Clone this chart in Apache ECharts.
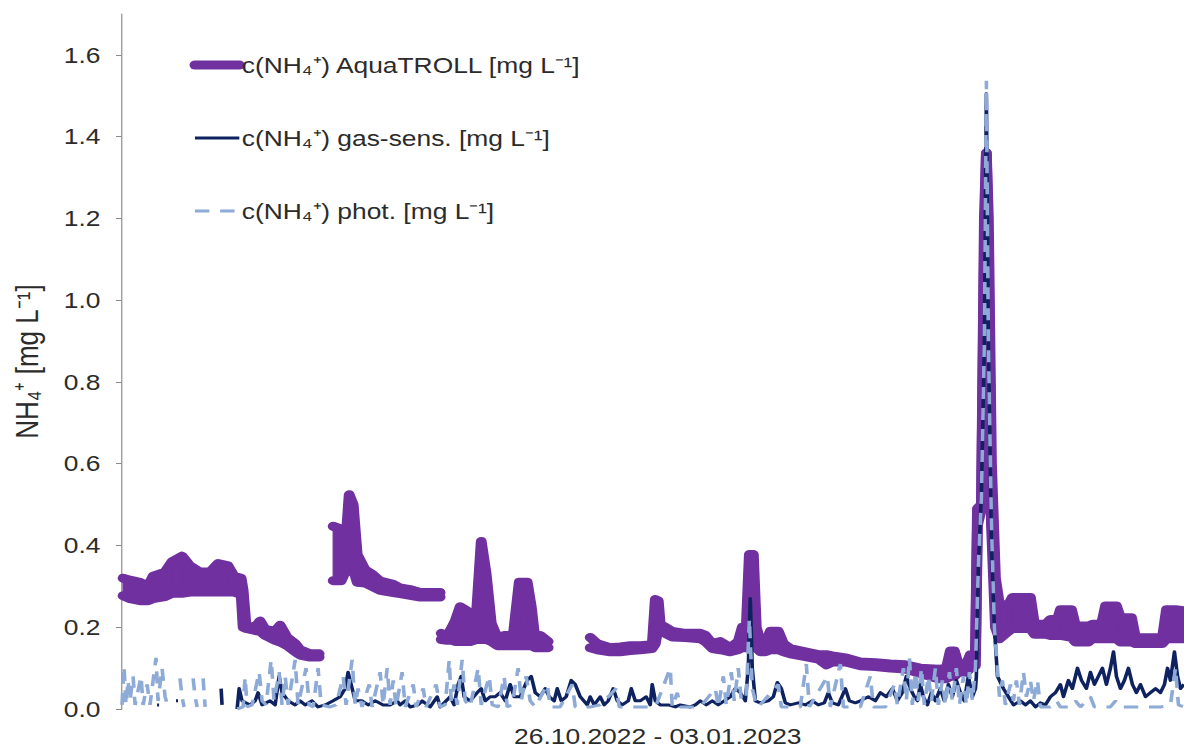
<!DOCTYPE html>
<html>
<head>
<meta charset="utf-8">
<title>NH4+ monitoring 26.10.2022 - 03.01.2023</title>
<script src="https://cdn.jsdelivr.net/npm/echarts@6/dist/echarts.min.js"></script>
<style>
  html, body { margin: 0; padding: 0; background: #ffffff; overflow: hidden; }
  /* the figure is laid out on a 987 px wide stage and widened to the full 1184 px */
  #chart { width: 987px; height: 752px; transform: scaleX(1.19959); transform-origin: 0 0; }
</style>
</head>
<body>
<div id="chart"></div>
<script>
// ---- measurement period (time axis in days after 26.10.2022 00:00) ----
const periodLabel = '26.10.2022 - 03.01.2023';
const periodDays = 69;
const yTicks = [0, 0.2, 0.4, 0.6, 0.8, 1.0, 1.2, 1.4, 1.6];

const AQUA = 'c(NH₄⁺) AquaTROLL [mg L⁻¹]';
const GAS = 'c(NH₄⁺) gas-sens. [mg L⁻¹]';
const PHOT = 'c(NH₄⁺) phot. [mg L⁻¹]';

// AquaTROLL probe: envelope (min / max) of the high-rate signal, null = no data
const aquaDay = [
  0.07, 0.52, 1.17, 1.69, 2.02, 2.8, 3.25, 3.9, 4.42, 5.07, 5.72, 6.24, 6.89, 7.28,
  7.74, 7.87, 8.06, 8.65, 8.97, 9.3, 9.95, 10.27, 10.73, 11.25, 11.57, 12.22, 12.81, 13.2,
  13.72, 14.24, 14.43, 14.76, 15.02, 15.28, 15.8, 16.25, 16.77, 17.62, 18.07, 18.72, 19.37, 20.67, 20.7,
  20.74, 21.13, 21.45, 21.65, 21.97, 22.43, 22.62, 23.01, 23.34, 23.66,
  23.99, 24.38, 24.9, 25.42, 25.81, 26.33, 26.59, 26.85, 27.17, 27.69, 28.5,
  30.42, 30.88, 31.72, 32.37, 33.02, 33.67, 34.45,
  34.65, 34.84, 34.97, 35.3, 35.75, 36.6, 37.57, 37.9, 38.35, 38.87, 39.52, 40.04, 40.3, 40.56, 40.76, 41.02,
  41.21, 41.47, 41.8, 42.12, 42.64, 42.97, 43.42, 44.4, 45.24, 45.76, 46.15, 47.0, 47.97, 48.95, 49.92, 50.9,
  51.87, 53.04, 53.56, 53.82, 54.08, 54.34, 54.86, 55.12, 55.45,
  55.58, 55.84, 56.03, 56.16, 56.29, 56.49, 56.75, 57.01,
  57.59, 57.85, 59.02, 59.28, 60.0, 60.32, 60.78, 60.97, 61.69, 61.95, 62.79,
  63.05, 63.64, 63.9, 64.61, 64.87, 65.59, 65.85, 67.6, 67.86, 68.45, 69.0
];
const aquaMin = [
  0.277, 0.27, 0.265, 0.265, 0.27, 0.275, 0.283, 0.283, 0.286, 0.286, 0.286, 0.286, 0.286, 0.286,
  0.28, 0.2, 0.197, 0.192, 0.19, 0.18, 0.168, 0.164, 0.155, 0.14, 0.132, 0.127, 0.127, null,
  0.314, 0.314, 0.33, 0.343, 0.343, 0.31, 0.308, 0.30, 0.29, 0.285, 0.282, 0.278, 0.274, 0.274, null,
  0.17, 0.168, 0.168, 0.165, 0.165, 0.165, 0.165, 0.17, 0.17, 0.17,
  0.165, 0.155, 0.155, 0.155, 0.155, 0.155, 0.155, 0.15, 0.15, 0.15, null,
  0.15, 0.145, 0.14, 0.14, 0.143, 0.145, 0.148,
  0.16, 0.2, 0.192, 0.185, 0.176, 0.175, 0.172, 0.165, 0.148, 0.145, 0.14, 0.145, 0.15, 0.15, 0.16, 0.16,
  0.15, 0.14, 0.14, 0.145, 0.145, 0.14, 0.135, 0.128, 0.122, 0.108, 0.115, 0.115, 0.106, 0.104, 0.1, 0.098,
  0.087, 0.074, 0.074, 0.08, 0.08, 0.09, 0.09, 0.1, 0.106,
  0.45, 0.49, 1.1, 1.36, 1.1, 0.45, 0.2, 0.172,
  0.19, 0.197, 0.197, 0.183, 0.183, 0.18, 0.18, 0.18, 0.175, 0.164, 0.164,
  0.172, 0.172, 0.172, 0.172, 0.164, 0.164, 0.16, 0.16, 0.172, 0.172, 0.172
];
const aquaMax = [
  0.32, 0.315, 0.31, 0.30, 0.325, 0.335, 0.36, 0.374, 0.35, 0.335, 0.335, 0.356, 0.35, 0.325,
  0.32, 0.29, 0.203, 0.2, 0.215, 0.195, 0.19, 0.205, 0.175, 0.16, 0.145, 0.135, 0.135, null,
  0.447, 0.44, 0.35, 0.524, 0.5, 0.378, 0.34, 0.33, 0.313, 0.305, 0.296, 0.292, 0.285, 0.285, null,
  0.185, 0.178, 0.2, 0.215, 0.25, 0.24, 0.18, 0.22, 0.41, 0.33,
  0.21, 0.175, 0.18, 0.18, 0.31, 0.31, 0.25, 0.165, 0.18, 0.165, null,
  0.175, 0.16, 0.15, 0.152, 0.155, 0.155, 0.157,
  0.268, 0.265, 0.207, 0.2, 0.19, 0.185, 0.185, 0.18, 0.16, 0.165, 0.15, 0.165, 0.2, 0.2, 0.378, 0.378,
  0.2, 0.165, 0.16, 0.19, 0.19, 0.16, 0.148, 0.14, 0.133, 0.133, 0.13, 0.125, 0.115, 0.113, 0.11, 0.108,
  0.1, 0.097, 0.1, 0.142, 0.142, 0.109, 0.11, 0.133, 0.133,
  0.49, 0.5, 1.2, 1.36, 1.2, 0.6, 0.32, 0.255,
  0.255, 0.273, 0.273, 0.207, 0.207, 0.219, 0.219, 0.243, 0.243, 0.203, 0.203,
  0.207, 0.207, 0.252, 0.252, 0.223, 0.223, 0.174, 0.174, 0.243, 0.243, 0.24
];

// gas-sensitive electrode
const gasDay = [
  2.28, 2.41, 3.0, 3.51, 3.64, 4.0, 6.44, 6.5, 7.0,
  7.48, 7.61, 7.8, 8.32, 8.65, 8.84, 9.1, 9.62, 9.95, 10.21, 10.4, 10.79, 11.25, 11.57, 11.9, 12.35, 12.74,
  13.2, 13.72, 14.17, 14.5, 14.69, 14.89, 15.15, 15.6, 15.99, 16.45, 16.97, 17.42, 17.88, 18.07, 18.4, 18.72,
  19.24, 19.5, 20.02, 20.48, 20.67, 21.32, 21.58, 21.84, 22.04, 22.23, 22.62, 23.08, 23.34, 23.6, 23.92,
  24.25, 24.57, 24.9, 25.22, 25.48, 25.87, 26.33, 26.59, 26.85, 27.17, 27.5, 27.76, 28.08, 28.28, 28.54,
  28.86, 29.19, 29.45, 29.77, 30.23, 30.42, 30.68, 31.07, 31.33, 31.59, 31.92, 32.18, 32.5, 32.89, 33.09,
  33.35, 33.67, 34.06, 34.32, 34.45, 34.65, 34.97, 35.49, 35.95, 36.27, 36.92, 37.25, 37.57, 37.96, 38.35,
  38.74, 39.13, 39.52, 39.85, 40.17, 40.5, 40.69, 40.82, 40.95, 41.15, 41.47, 41.99, 42.32, 42.58, 42.84,
  43.1, 43.42, 43.94, 44.4, 44.85, 45.24, 45.63, 45.89, 46.15, 46.54, 47.0, 47.26, 47.65, 47.97, 48.49,
  48.95, 49.27, 49.66, 50.05, 50.38, 50.7, 50.96, 51.22, 51.48, 51.68, 51.87, 52.07, 52.33, 52.59, 52.85,
  53.17, 53.43, 53.69, 53.95, 54.21, 54.47, 54.73, 54.99, 55.25, 55.45, 55.51, 55.64, 55.84, 56.03, 56.16,
  56.29, 56.49, 56.68, 56.88, 57.27, 57.59, 57.92, 58.37, 58.7, 59.02, 59.35, 59.67, 60.0, 60.32, 60.65,
  60.97, 61.17, 61.49, 61.75, 62.08, 62.34, 62.66, 62.92, 63.18, 63.44, 63.7, 63.96, 64.22, 64.42, 64.61,
  64.87, 65.13, 65.39, 65.65, 65.91, 66.17, 66.5, 66.82, 67.15, 67.47, 67.73, 67.93, 68.12, 68.38, 68.58,
  68.77, 69.0
];
const gasVal = [
  0.01, 0.01, null, 0.02, 0.02, null, 0.05, 0.01, null,
  0.0, 0.05, 0.02, 0.01, 0.02, 0.04, 0.01, 0.02, 0.01, 0.08, 0.04, 0.02, 0.01, 0.02, 0.01, 0.02, 0.005,
  0.01, 0.02, 0.03, 0.05, 0.09, 0.06, 0.02, 0.02, 0.01, 0.02, 0.01, 0.01, 0.02, 0.01, 0.02, 0.005,
  0.01, 0.02, 0.005, 0.03, 0.005, 0.03, 0.01, 0.06, 0.08, 0.03, 0.02, 0.04, 0.05, 0.02, 0.03,
  0.03, 0.04, 0.02, 0.06, 0.03, 0.03, 0.07, 0.08, 0.04, 0.03, 0.05, 0.03, 0.02, 0.05, 0.02,
  0.03, 0.07, 0.06, 0.03, 0.01, 0.03, 0.01, 0.03, 0.01, 0.02, 0.05, 0.02, 0.01, 0.02, 0.05,
  0.02, 0.02, 0.03, 0.01, 0.06, 0.02, 0.01, 0.01, 0.005, 0.01, 0.005, 0.01, 0.02, 0.01, 0.02,
  0.01, 0.02, 0.03, 0.05, 0.04, 0.02, 0.1, 0.27, 0.1, 0.02, 0.015, 0.02, 0.03, 0.065, 0.05,
  0.015, 0.01, 0.015, 0.01, 0.02, 0.01, 0.015, 0.04, 0.015, 0.01, 0.05, 0.02, 0.015, 0.02, 0.03,
  0.02, 0.04, 0.03, 0.05, 0.02, 0.04, 0.08, 0.05, 0.03, 0.02, 0.06, 0.03, 0.01, 0.04, 0.02,
  0.05, 0.02, 0.06, 0.03, 0.07, 0.04, 0.02, 0.08, 0.03, 0.05, 0.08, 0.35, 0.53, 0.9, 1.505,
  0.9, 0.4, 0.2, 0.08, 0.05, 0.03, 0.01, 0.02, 0.01, 0.02, 0.005, 0.015, 0.01, 0.03, 0.04,
  0.06, 0.03, 0.07, 0.05, 0.1, 0.07, 0.05, 0.09, 0.06, 0.08, 0.1, 0.06, 0.1, 0.14, 0.08,
  0.05, 0.07, 0.1, 0.06, 0.04, 0.06, 0.03, 0.04, 0.05, 0.04, 0.06, 0.1, 0.07, 0.14, 0.08,
  0.05, 0.06
];

// photometric reference analyser
const photDay = [
  0, 0.13, 0.26, 0.39, 0.52, 0.72, 0.85, 1.24, 1.37, 1.63, 1.82, 2.21, 2.34, 2.6, 2.8, 2.99, 3.25, 3.5,
  3.77, 3.9, 4.03, 4.3, 4.62, 4.75, 4.88, 5.1, 5.27, 5.4, 6.0,
  7.48, 7.87, 8.0, 8.13, 8.45, 8.91, 9.1, 9.36, 9.69, 9.88, 10.21, 10.4, 10.6, 10.79, 11.25, 11.44, 11.96,
  12.16, 12.42, 12.74, 12.94, 13.52, 13.91, 14.37, 14.56, 14.95, 15.15, 15.34, 15.6, 16.06, 16.25, 16.77,
  16.97, 17.23, 17.42, 17.62, 17.81, 18.2, 18.4, 18.92, 19.11, 19.57, 19.76, 20.41, 20.67, 21.0, 21.26,
  21.39, 21.58, 21.78, 22.1, 22.3, 22.62, 23.14, 23.34, 23.86, 24.05, 24.44, 24.83, 25.03, 25.35, 25.74,
  25.94, 26.26, 26.52, 26.85, 27.63, 27.82, 28.47, 29.25, 29.45, 30.42, 31.07, 32.11, 32.31, 33.67, 34.45,
  34.71, 35.62, 35.75, 36.08, 36.27, 37.57, 38.55, 38.74, 39.07, 39.26, 39.59, 39.78, 40.04, 40.24, 40.56,
  40.76, 40.95, 41.15, 41.34, 42.64, 42.84, 44.07, 44.46, 44.66, 45.83, 46.02, 46.67, 46.87, 47.97, 48.62,
  48.82, 49.6, 50.18, 50.38, 50.77, 50.96, 51.16, 51.35, 51.55, 51.74, 51.94, 52.13, 52.39, 52.59, 52.85,
  53.04, 53.3, 53.5, 53.76, 53.95, 54.21, 54.41, 54.67, 54.86, 55.06, 55.25, 55.45, 55.64, 55.84, 56.03,
  56.16, 56.29, 56.49, 56.68, 56.88, 57.01, 57.2, 57.4, 57.72, 57.92, 58.11, 58.31, 58.57, 58.76, 59.02,
  59.22, 59.48, 59.67, 60.32, 60.71, 60.97, 61.62, 61.95, 62.27, 62.92, 63.18, 64.22, 64.55, 64.87, 66.17,
  67.47, 68.12, 68.45, 68.64, 69.0
];
const photVal = [
  0.01, 0.105, 0.01, 0.07, 0.02, 0.08, 0.01, 0.08, 0.01, 0.06, 0.01, 0.125, 0.02, 0.1, 0.03, 0.005, 0.005, null,
  0.075, 0.03, 0.005, null, 0.075, 0.03, 0.005, null, 0.075, 0.005, null,
  0.0, 0.005, 0.078, 0.005, 0.01, 0.09, 0.02, 0.01, 0.12, 0.02, 0.09, 0.01, 0.08, 0.01, 0.12, 0.01, 0.1,
  0.01, 0.005, 0.1, 0.01, 0.005, 0.01, 0.08, 0.01, 0.12, 0.01, 0.05, 0.005, 0.06, 0.005, 0.09,
  0.01, 0.1, 0.01, 0.07, 0.005, 0.09, 0.005, 0.06, 0.005, 0.05, 0.005, 0.06, 0.005, 0.01, 0.12,
  0.02, 0.06, 0.01, 0.12, 0.02, 0.005, 0.1, 0.01, 0.08, 0.01, 0.005, 0.08, 0.005, 0.01, 0.1,
  0.02, 0.08, 0.02, 0.005, 0.06, 0.005, 0.005, 0.06, 0.005, 0.005, 0.01, 0.05, 0.005, 0.005, 0.005,
  0.01, 0.1, 0.005, 0.04, 0.005, 0.005, 0.05, 0.005, 0.08, 0.01, 0.09, 0.02, 0.1, 0.02, 0.03,
  0.22, 0.05, 0.02, 0.005, 0.06, 0.005, 0.005, 0.11, 0.005, 0.08, 0.005, 0.11, 0.005, 0.005, 0.08,
  0.005, 0.005, 0.06, 0.01, 0.1, 0.02, 0.125, 0.01, 0.09, 0.02, 0.1, 0.01, 0.08, 0.02, 0.1,
  0.01, 0.07, 0.01, 0.09, 0.02, 0.1, 0.01, 0.08, 0.01, 0.09, 0.02, 0.1, 0.35, 0.52, 0.9,
  1.537, 0.9, 0.45, 0.2, 0.1, 0.03, 0.07, 0.01, 0.06, 0.02, 0.07, 0.01, 0.09, 0.03, 0.07,
  0.02, 0.07, 0.005, 0.005, 0.02, 0.005, 0.005, 0.02, 0.005, 0.03, 0.005, 0.005, 0.02, 0.005, 0.005,
  0.005, 0.01, 0.1, 0.01, 0.005
];

// ---- series data built from the arrays above ----
const pair = (days, vals) => days.map((d, i) => [d, vals[i]]);
const aquaEnvelope = aquaDay.map((d, i) => [d, aquaMin[i], aquaMax[i]]);

const FONT = '"Liberation Sans", Arial, Helvetica, sans-serif';
const TEXT = '#2b2b2b';
const AXIS = '#8c8c8c';
const PURPLE = '#7030a0';
const NAVY = '#0f2260';
const LIGHT = '#8eaad6';

const aquaLine = { color: PURPLE, width: 9, cap: 'round', join: 'round' };

// fills the band between the min and max envelope of the probe signal
function renderAquaBand(params, api) {
  const i = params.dataIndex;
  if (i >= aquaDay.length - 1) return null;
  if (aquaMin[i] == null || aquaMin[i + 1] == null) return null;
  const pts = [
    api.coord([aquaDay[i], aquaMin[i]]),
    api.coord([aquaDay[i + 1], aquaMin[i + 1]]),
    api.coord([aquaDay[i + 1], aquaMax[i + 1]]),
    api.coord([aquaDay[i], aquaMax[i]])
  ];
  return {
    type: 'polygon',
    shape: { points: pts },
    style: { fill: PURPLE, stroke: PURPLE, lineWidth: 1 }
  };
}

const chart = echarts.init(document.getElementById('chart'), null, { renderer: 'svg' });
chart.setOption({
  animation: false,
  backgroundColor: '#ffffff',
  textStyle: { fontFamily: FONT },
  grid: { left: 101.7, right: 0, top: 14, bottom: 43, containLabel: false },
  legend: {
    orient: 'vertical',
    left: 153,
    top: 48,
    itemWidth: 37,
    itemHeight: 10,
    itemGap: 49,
    selectedMode: false,
    itemStyle: { opacity: 0 },
    textStyle: { fontSize: 22, color: TEXT, fontFamily: FONT, lineHeight: 24, padding: [0, 0, 0, -3] },
    data: [
      { name: AQUA, lineStyle: { width: 9, cap: 'round' } },
      { name: GAS, lineStyle: { width: 3 } },
      { name: PHOT, lineStyle: { width: 3 } }
    ]
  },
  xAxis: {
    type: 'value',
    min: 0,
    max: periodDays,
    axisLine: { show: false },
    axisTick: { show: false },
    axisLabel: { show: false },
    splitLine: { show: false },
    name: periodLabel,
    nameLocation: 'middle',
    nameGap: 16,
    nameTextStyle: { fontSize: 22, color: TEXT, fontFamily: FONT, padding: [0, 0, 0, 8] }
  },
  yAxis: {
    type: 'value',
    min: 0,
    max: 1.7,
    axisLine: { show: true, lineStyle: { color: AXIS, width: 1 } },
    axisTick: { show: true, length: 5, customValues: yTicks, lineStyle: { color: AXIS } },
    axisLabel: {
      customValues: yTicks,
      formatter: (v) => v.toFixed(1),
      fontSize: 22, color: TEXT, fontFamily: FONT, margin: 18
    },
    splitLine: { show: false },
    name: 'NH₄⁺ [mg L⁻¹]',
    nameLocation: 'middle',
    nameRotate: 90,
    nameGap: 66,
    nameTextStyle: { fontSize: 26, color: TEXT, fontFamily: FONT }
  },
  series: [
    {
      name: 'AquaTROLL band', type: 'custom', data: aquaEnvelope,
      encode: { x: 0, y: [1, 2] }, renderItem: renderAquaBand,
      clip: true, silent: true, z: 2
    },
    {
      name: 'AquaTROLL min', type: 'line', data: pair(aquaDay, aquaMin),
      symbol: 'none', connectNulls: false, silent: true,
      lineStyle: aquaLine, itemStyle: { color: PURPLE }, z: 2
    },
    {
      name: AQUA, type: 'line', data: pair(aquaDay, aquaMax),
      symbol: 'none', connectNulls: false,
      lineStyle: aquaLine, itemStyle: { color: PURPLE }, z: 2
    },
    {
      name: GAS, type: 'line', data: pair(gasDay, gasVal),
      symbol: 'none', connectNulls: false,
      lineStyle: { color: NAVY, width: 3, join: 'round' },
      itemStyle: { color: NAVY }, z: 3
    },
    {
      name: PHOT, type: 'line', data: pair(photDay, photVal),
      symbol: 'none', connectNulls: false,
      lineStyle: { color: LIGHT, width: 3, type: [12, 9] },
      itemStyle: { color: LIGHT }, z: 4
    }
  ]
});
</script>
</body>
</html>
